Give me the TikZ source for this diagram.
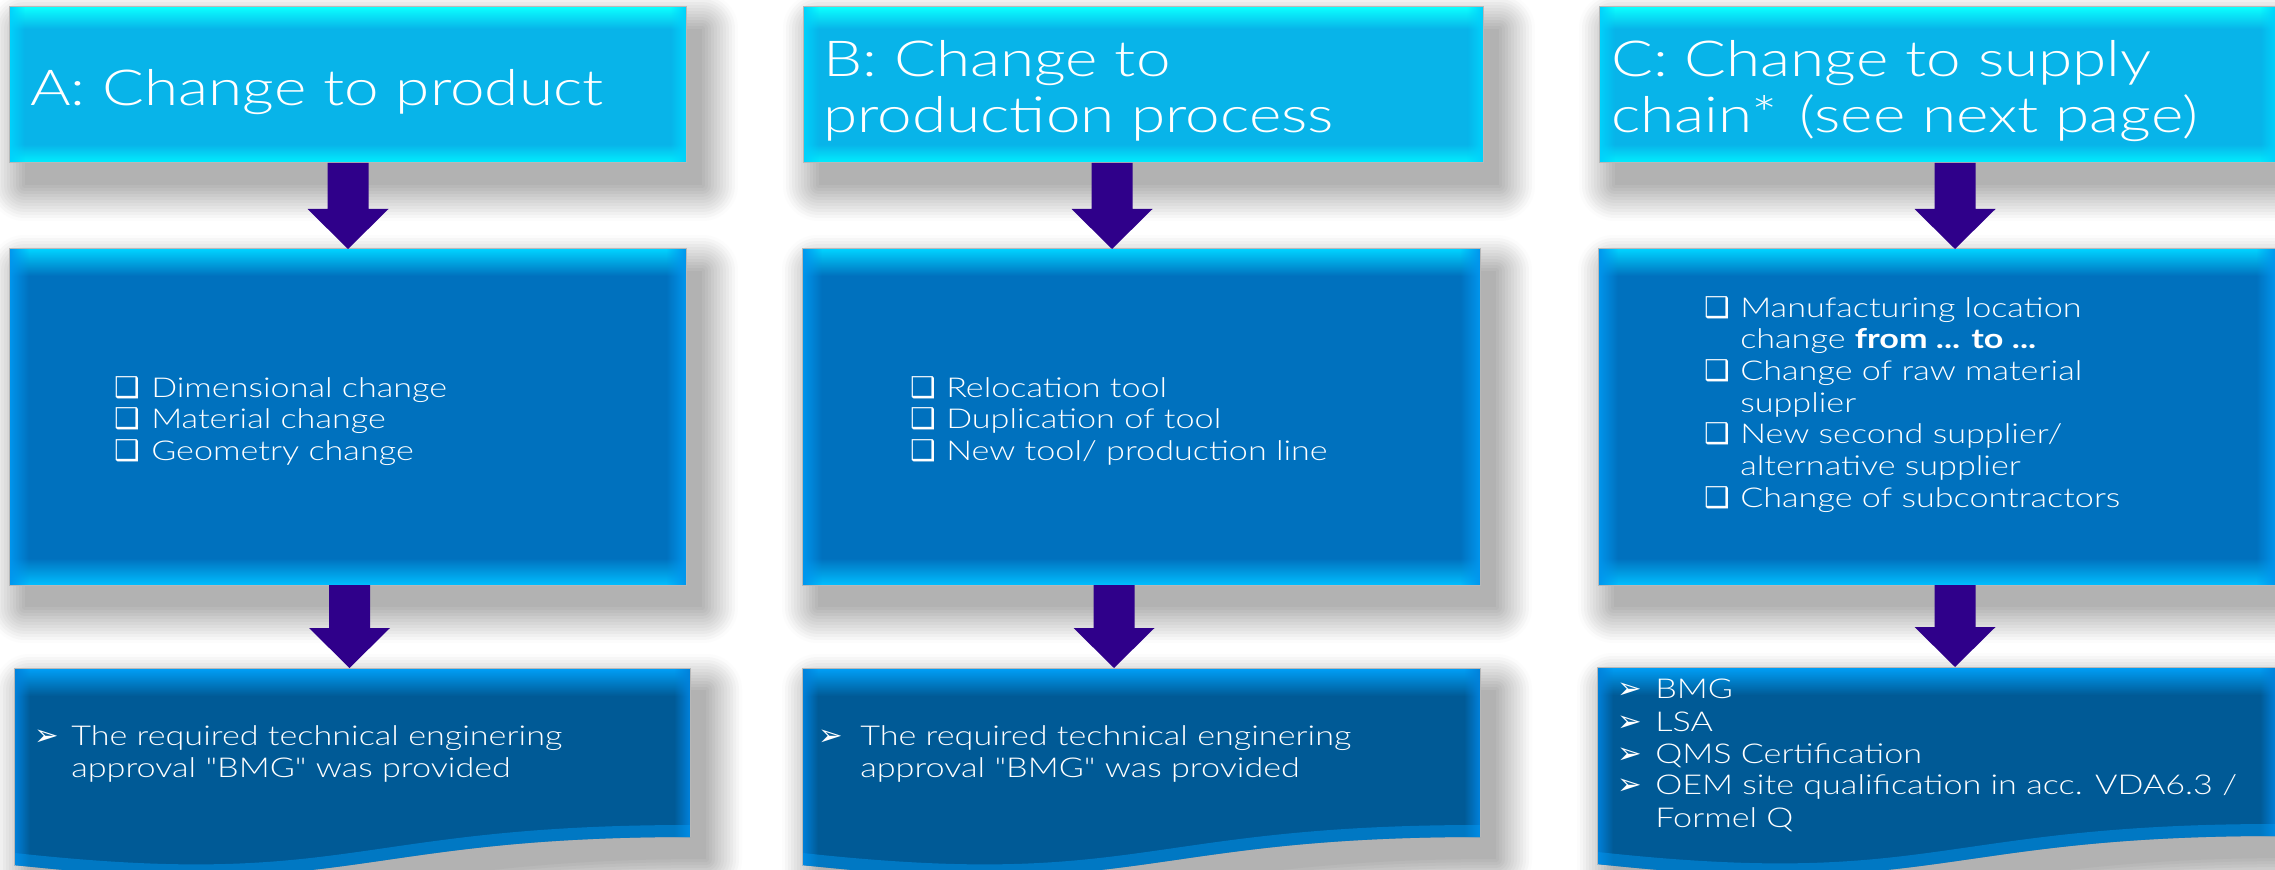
\documentclass[tikz,border=0pt]{standalone}
\usepackage{fontspec}
\setmainfont{Lato}[UprightFont=* Light, BoldFont=* Bold, FakeStretch=1.25, Ligatures=TeXOff]
\newfontfamily\dingfont{DejaVu Sans}
\usetikzlibrary{fit,calc,fadings}

\definecolor{arrowc}{RGB}{47,0,138}
\definecolor{shgray}{RGB}{178,178,178}
\definecolor{tMid}{RGB}{8,180,233}
\definecolor{tTop}{RGB}{10,255,255}
\definecolor{tBot}{RGB}{0,240,255}
\definecolor{tSide}{RGB}{0,210,252}
\definecolor{mMid}{RGB}{0,113,190}
\definecolor{mTop}{RGB}{0,210,255}
\definecolor{mBot}{RGB}{0,190,255}
\definecolor{mSide}{RGB}{0,150,238}
\definecolor{bMid}{RGB}{0,90,150}
\definecolor{bTop}{RGB}{0,160,248}
\definecolor{bSide}{RGB}{0,130,220}
\definecolor{bEdge}{RGB}{0,150,240}

\pgfdeclareverticalshading{tshade}{100bp}{color(0bp)=(tBot); color(25bp)=(tBot); color(31bp)=(tMid); color(68bp)=(tMid); color(75bp)=(tTop); color(100bp)=(tTop)}
\pgfdeclareverticalshading{mshade}{100bp}{color(0bp)=(mBot); color(25bp)=(mBot); color(29bp)=(mMid); color(71bp)=(mMid); color(75bp)=(mTop); color(100bp)=(mTop)}
\pgfdeclareverticalshading{bshade}{100bp}{color(0bp)=(bMid); color(69bp)=(bMid); color(75bp)=(bTop); color(100bp)=(bTop)}

\newcommand\wavepath[3]{(#1,#2) -- (#3,#2) -- (#3,#2+169) .. controls ({(#1+#3)/2},#2+169) and ({(#1+#3)/2},#2+234) .. (#1,#2+197) -- cycle}

\newcommand\rectshadow[4]{%
  \foreach \k in {12,...,1}{\pgfmathtruncatemacro\pc{100-8*\k}
    \filldraw[line width=\k*4.5pt, line join=round, color=shgray!\pc!white] (#1,#2) rectangle (#3,#4);}
  \fill[shgray] (#1,#2) rectangle (#3,#4);}
\newcommand\waveshadow[3]{%
  \foreach \k in {12,...,1}{\pgfmathtruncatemacro\pc{100-8*\k}
    \filldraw[line width=\k*4.5pt, line join=round, color=shgray!\pc!white] \wavepath{#1}{#2}{#3};}
  \fill[shgray] \wavepath{#1}{#2}{#3};}

\newcommand\glassbox[4]{% node, shading, side colour, band width
  \shade[shading=#2] (#1.north west) rectangle (#1.south east);
  \fill[#3, path fading=east] (#1.north west) rectangle ($(#1.south west)+(#4,0)$);
  \fill[#3, path fading=west] ($(#1.north east)+(-#4,0)$) rectangle (#1.south east);
  \draw[edgeline] (#1.north west) rectangle (#1.south east);}

\newcommand\botbox[3]{%
  \shade[shading=bshade] \wavepath{#1}{#2}{#3};
  \begin{scope}
    \clip \wavepath{#1}{#2}{#3};
    \fill[bSide, path fading=east] (#1,#2) rectangle (#1+16,#2+240);
    \fill[bSide, path fading=west] (#3-16,#2) rectangle (#3,#2+240);
    \draw[bEdge, line width=18pt, opacity=0.5] (#3,#2+169) .. controls ({(#1+#3)/2},#2+169) and ({(#1+#3)/2},#2+234) .. (#1,#2+197);
  \end{scope}
  \draw[edgeline] (#1,#2+197) -- (#1,#2) -- (#3,#2) -- (#3,#2+169);}

\newcommand\bigarrow[2]{%
  \fill[arrowc] ($(#1)+(-20.5,0)$) -- ($(#1)+(20.5,0)$) -- ($(#2)+(20.5,-40)$) -- ($(#2)+(40.5,-40)$) -- (#2) -- ($(#2)+(-40.5,-40)$) -- ($(#2)+(-20.5,-40)$) -- cycle;}

\begin{document}
\begin{tikzpicture}[x=0.75pt,y=-0.75pt,
  boxfit/.style={inner sep=0pt, outer sep=0pt},
  edgeline/.style={draw=black!28, line width=0.75pt},
  title/.style={text=white, font=\fontsize{37.2pt}{42pt}\selectfont, inner sep=0pt, anchor=base west},
  body/.style={text=white, font=\fontsize{20.5pt}{24pt}\selectfont, inner sep=0pt, anchor=base west},
  sqb/.style={text=white, font=\dingfont\fontsize{21.5pt}{28pt}\selectfont, inner sep=0pt, anchor=base west},
  arb/.style={text=white, font=\dingfont\fontsize{22pt}{28pt}\selectfont, inner sep=0pt, anchor=base west}]
\useasboundingbox (0,0) rectangle (2275,870);
\clip (0,0) rectangle (2275,870);
\fill[white] (0,0) rectangle (2275,870);

% box frames
\node[boxfit, fit={(9,7) (686,163)}] (tA) {};
\node[boxfit, fit={(803,7) (1483,163)}] (tB) {};
\node[boxfit, fit={(1599,7) (2276,163)}] (tC) {};
\node[boxfit, fit={(9,249) (686,585)}] (mA) {};
\node[boxfit, fit={(802,249) (1480,585)}] (mB) {};
\node[boxfit, fit={(1598,249) (2276,585)}] (mC) {};
\node[boxfit, fit={(14,668) (690,866)}] (bA) {};
\node[boxfit, fit={(802,668) (1480,866)}] (bB) {};
\node[boxfit, fit={(1597,667) (2276,866)}] (bC) {};

% shadows
\begin{scope}[shift={(16,22)}]
  \rectshadow{9}{7}{686}{163}
  \rectshadow{803}{7}{1483}{163}
  \rectshadow{1599}{7}{2276}{163}
  \rectshadow{9}{249}{686}{585}
  \rectshadow{802}{249}{1480}{585}
  \rectshadow{1598}{249}{2276}{585}
  \waveshadow{14}{668}{690}
  \waveshadow{802}{668}{1480}
  \waveshadow{1597}{667}{2276}
\end{scope}

% boxes
\glassbox{tA}{tshade}{tSide}{16}
\glassbox{tB}{tshade}{tSide}{16}
\glassbox{tC}{tshade}{tSide}{16}
\glassbox{mA}{mshade}{mSide}{20}
\glassbox{mB}{mshade}{mSide}{20}
\glassbox{mC}{mshade}{mSide}{20}
\botbox{14}{668}{690}
\botbox{802}{668}{1480}
\botbox{1597}{667}{2276}

% arrows
\coordinate (a1s) at ($(tA.south west)+(339,0)$);
\coordinate (a1e) at ($(mA.north west)+(339,0)$);
\coordinate (a2s) at ($(mA.south west)+(340.5,0)$);
\coordinate (a2e) at ($(bA.north west)+(335.5,0)$);
\coordinate (b1s) at ($(tB.south west)+(309,0)$);
\coordinate (b1e) at ($(mB.north west)+(310,0)$);
\coordinate (b2s) at ($(mB.south west)+(312,0)$);
\coordinate (b2e) at ($(bB.north west)+(312,0)$);
\coordinate (c1s) at ($(tC.south west)+(356,0)$);
\coordinate (c1e) at ($(mC.north west)+(357,0)$);
\coordinate (c2s) at ($(mC.south west)+(357,0)$);
\coordinate (c2e) at ($(bC.north west)+(358,0)$);
\bigarrow{a1s}{a1e}
\bigarrow{a2s}{a2e}
\bigarrow{b1s}{b1e}
\bigarrow{b2s}{b2e}
\bigarrow{c1s}{c1e}
\bigarrow{c2s}{c2e}

% titles
\node[title] (tAt) at (30,106) {A: Change to product};
\node[title] (tBt1) at (823,77) {B: Change to};
\node[title] (tBt2) at (823,133) {production process};
\node[title] (tCt1) at (1611,77) {C: Change to supply};
\node[title] (tCt2) at (1611,133) {chain*\hspace{4pt} (see next page)};

% middle lists
\node[sqb] (mAb1) at (114,397) {❑}; \node[body] (mAl1) at (151,397) {Dimensional change};
\node[sqb] (mAb2) at (114,428) {❑}; \node[body] (mAl2) at (151,428) {Material change};
\node[sqb] (mAb3) at (114,460) {❑}; \node[body] (mAl3) at (151,460) {Geometry change};

\node[sqb] (mBb1) at (910,397) {❑}; \node[body] (mBl1) at (946,397) {Relocation tool};
\node[sqb] (mBb2) at (910,428) {❑}; \node[body] (mBl2) at (946,428) {Duplication of tool};
\node[sqb] (mBb3) at (910,460) {❑}; \node[body] (mBl3) at (946,460) {New tool/ production line};

\node[sqb] (mCb1) at (1704,317) {❑}; \node[body] (mCl1) at (1740,317) {Manufacturing location};
\node[body] (mCl2) at (1740,348) {change \textbf{from ... to ...}};
\node[sqb] (mCb3) at (1704,380) {❑}; \node[body] (mCl3) at (1740,380) {Change of raw material};
\node[body] (mCl4) at (1740,412) {supplier};
\node[sqb] (mCb5) at (1704,443) {❑}; \node[body] (mCl5) at (1740,443) {New second supplier/};
\node[body] (mCl6) at (1740,475) {alternative supplier};
\node[sqb] (mCb7) at (1704,507) {❑}; \node[body] (mCl7) at (1740,507) {Change of subcontractors};

% bottom lists
\node[arb] (bAb1) at (34,745) {➢}; \node[body] (bAl1) at (71,745) {The required technical enginering};
\node[body] (bAl2) at (71,777) {approval "BMG" was provided};
\node[arb] (bBb1) at (818,745) {➢}; \node[body] (bBl1) at (860,745) {The required technical enginering};
\node[body] (bBl2) at (860,777) {approval "BMG" was provided};
\node[arb] (bCb1) at (1617,698) {➢}; \node[body] (bCl1) at (1655,698) {BMG};
\node[arb] (bCb2) at (1617,731) {➢}; \node[body] (bCl2) at (1655,731) {LSA};
\node[arb] (bCb3) at (1617,763) {➢}; \node[body] (bCl3) at (1655,763) {QMS Certification};
\node[arb] (bCb4) at (1617,794) {➢}; \node[body] (bCl4) at (1655,794) {OEM site qualification in acc. VDA6.3 /};
\node[body] (bCl5) at (1655,827) {Formel Q};
\end{tikzpicture}
\end{document}
